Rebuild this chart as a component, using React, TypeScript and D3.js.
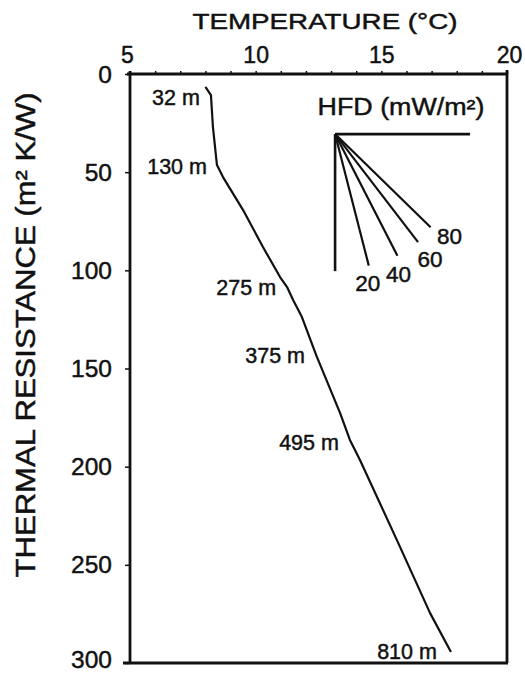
import React, { useRef, useEffect } from "react";
import * as d3 from "d3";

const WIDTH = 525;
const HEIGHT = 674;
const FONT = "'Liberation Sans', Arial, Helvetica, sans-serif";
const INK = "#111";
const TEXT_STROKE = 0.45;

// temperature profile vs thermal resistance
const curveTemp = [8.0, 8.22, 8.3, 8.46, 8.7, 9.5, 10.29, 10.97, 11.25, 11.49, 11.84, 12.42, 13.36, 13.75, 14.15, 15.62, 16.94, 17.77];
const curveRes = [6.6, 10.7, 27, 46.4, 52.5, 69.3, 88.1, 103.4, 108.5, 115.1, 123.8, 143.6, 172.7, 186.4, 196.6, 237.4, 274.6, 294.4];

// depth markers along the profile
const depthLabels = ["32 m", "130 m", "275 m", "375 m", "495 m", "810 m"];
const depthTemp = [8.22, 8.5, 11.25, 12.4, 13.75, 17.65];
const depthRes = [11.7, 46.9, 108.5, 143.1, 187.5, 294];

// heat flow density key (mW/m2), drawn as gradients dT = q * dR
const hfdValues = [20, 40, 60, 80];
const hfdSpan = [67, 62, 55, 47.5];
const hfdOrigin = { temp: 13.16, res: 30.6 };
const hfdAxisEnd = { temp: 18.53, res: 100.4 };

const xTicks = d3.range(5, 21, 1);
const xLabels = [5, 10, 15, 20];
const yTicks = [0, 50, 100, 150, 200, 250, 300];

// label nudges for the HFD key (px)
const HFD_LABEL_DX = [-1, 1, 12, 19];
const HFD_LABEL_DY = [25, 26, 25, 17];

export default function App() {
  const svgRef = useRef<SVGSVGElement | null>(null);

  useEffect(() => {
    const svg = d3.select(svgRef.current);
    svg.selectAll("*").remove();

    const x = d3.scaleLinear().domain([5, 20]).range([130, 507]);
    const y = d3.scaleLinear().domain([0, 300]).range([74, 663]);

    svg.append("rect").attr("width", WIDTH).attr("height", HEIGHT).attr("fill", "#fff");

    const ink = (sel: any, size: number) =>
      sel
        .attr("font-family", FONT)
        .attr("font-size", size)
        .attr("fill", INK)
        .attr("stroke", INK)
        .attr("stroke-width", TEXT_STROKE);

    // frame: right + bottom
    svg.append("line")
      .attr("x1", x(20)).attr("x2", x(20))
      .attr("y1", y(0) - 4).attr("y2", y(300))
      .attr("stroke", INK).attr("stroke-width", 2.8);
    svg.append("line")
      .attr("x1", x(5) - 7).attr("x2", x(20) + 1)
      .attr("y1", y(300)).attr("y2", y(300))
      .attr("stroke", INK).attr("stroke-width", 2.8);

    // top axis
    const xAxis = svg.append("g")
      .attr("transform", `translate(0,${y(0)})`)
      .call(
        d3.axisTop(x)
          .tickValues(xTicks)
          .tickSize(3)
          .tickPadding(8)
          .tickFormat((v) => (xLabels.includes(+v) ? String(v) : "")),
      );
    xAxis.select(".domain").attr("stroke", INK).attr("stroke-width", 2.8).attr("d", `M${x(5) - 3},0H${x(20) + 1}`);
    xAxis.selectAll("line").attr("stroke", INK).attr("stroke-width", 1.5);
    ink(xAxis.selectAll("text"), 23)
      .attr("dx", (d: any) => (d === 5 ? -3 : d === 20 ? 2 : 0));

    // left axis
    const yAxis = svg.append("g")
      .attr("transform", `translate(${x(5)},0)`)
      .call(d3.axisLeft(y).tickValues(yTicks).tickSize(5).tickPadding(13));
    yAxis.select(".domain").attr("stroke", INK).attr("stroke-width", 2.8).attr("d", `M0,${y(0) - 3}V${y(300)}`);
    yAxis.selectAll("line").attr("stroke", INK).attr("stroke-width", 1.5);
    ink(yAxis.selectAll("text"), 24.5).attr("dy", (d: any) => (d === 300 ? "0.2em" : "0.33em"));

    // axis titles
    ink(svg.append("text"), 22)
      .attr("x", 325).attr("y", 29)
      .attr("text-anchor", "middle")
      .attr("textLength", 265).attr("lengthAdjust", "spacingAndGlyphs")
      .text("TEMPERATURE (°C)");
    ink(svg.append("text"), 27)
      .attr("transform", `translate(35,335) rotate(-90)`)
      .attr("text-anchor", "middle")
      .attr("textLength", 485).attr("lengthAdjust", "spacingAndGlyphs")
      .text("THERMAL RESISTANCE (m² K/W)");

    // profile
    const pts: [number, number][] = curveTemp.map((t, i) => [t, curveRes[i]]);
    svg.append("path")
      .datum(pts)
      .attr("d", d3.line<[number, number]>().x((d) => x(d[0])).y((d) => y(d[1])))
      .attr("fill", "none").attr("stroke", INK).attr("stroke-width", 2.2)
      .attr("stroke-linejoin", "round");

    // depth labels
    ink(
      svg.selectAll(".depth")
        .data(depthLabels)
        .join("text")
        .attr("class", "depth"),
      21.5,
    )
      .attr("x", (_: any, i: number) => x(depthTemp[i]) - 11)
      .attr("y", (_: any, i: number) => y(depthRes[i]) + 8)
      .attr("text-anchor", "end")
      .text((d: string) => d);

    // HFD key
    const ox = x(hfdOrigin.temp);
    const oy = y(hfdOrigin.res);
    svg.append("line")
      .attr("x1", ox).attr("x2", x(hfdAxisEnd.temp)).attr("y1", oy).attr("y2", oy)
      .attr("stroke", INK).attr("stroke-width", 2.6);
    svg.append("line")
      .attr("x1", ox).attr("x2", ox).attr("y1", oy).attr("y2", y(hfdAxisEnd.res))
      .attr("stroke", INK).attr("stroke-width", 2.6);

    const hfdEnd = hfdValues.map((q, i) => ({
      q,
      ex: x(hfdOrigin.temp + (q * hfdSpan[i]) / 1000),
      ey: y(hfdOrigin.res + hfdSpan[i]),
    }));
    svg.selectAll(".hfd-line")
      .data(hfdEnd)
      .join("line")
      .attr("class", "hfd-line")
      .attr("x1", ox).attr("y1", oy)
      .attr("x2", (d) => d.ex).attr("y2", (d) => d.ey)
      .attr("stroke", INK).attr("stroke-width", 2.2);
    ink(
      svg.selectAll(".hfd-label")
        .data(hfdEnd)
        .join("text")
        .attr("class", "hfd-label"),
      22.5,
    )
      .attr("x", (d: any, i: number) => d.ex + HFD_LABEL_DX[i])
      .attr("y", (d: any, i: number) => d.ey + HFD_LABEL_DY[i])
      .attr("text-anchor", "middle")
      .text((d: any) => d.q);

    ink(svg.append("text"), 23)
      .attr("x", 401).attr("y", 115)
      .attr("text-anchor", "middle")
      .attr("textLength", 167).attr("lengthAdjust", "spacingAndGlyphs")
      .text("HFD (mW/m²)");
  }, []);

  return (
    <div style={{ position: "absolute", left: 0, top: 0 }}>
      <svg ref={svgRef} width={WIDTH} height={HEIGHT} style={{ display: "block" }} />
    </div>
  );
}
